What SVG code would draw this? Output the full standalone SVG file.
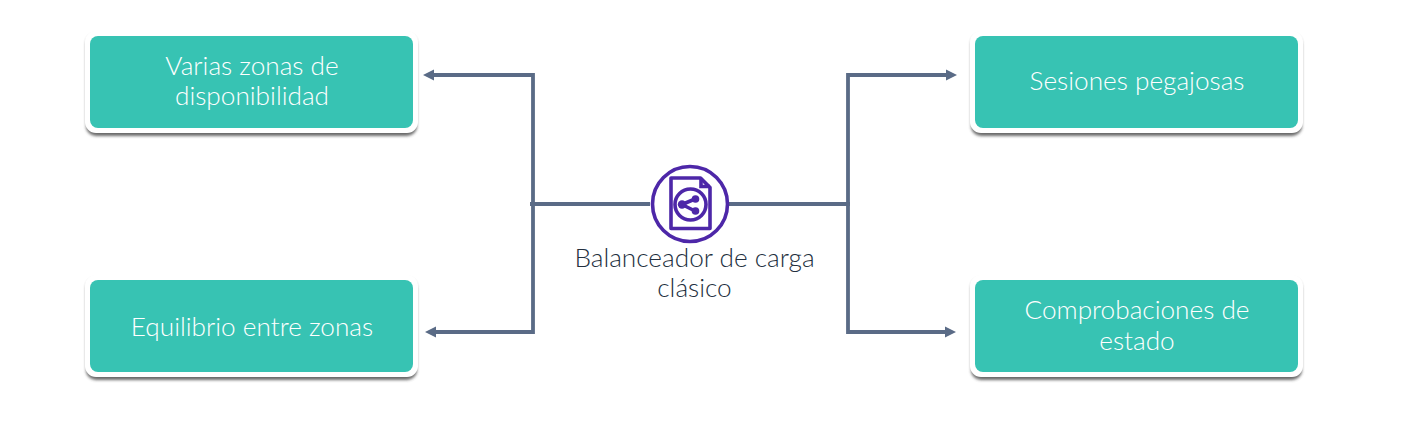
<svg xmlns="http://www.w3.org/2000/svg" width="1415" height="421" viewBox="0 0 1415 421">
<defs>
<filter id="sh" x="-5%" y="-15%" width="110%" height="130%"><feGaussianBlur stdDeviation="1.8"/></filter>
<marker id="ah" markerUnits="userSpaceOnUse" markerWidth="12" markerHeight="12" refX="2" refY="6" orient="auto"><path d="M0 0.500L11 6L0 11.500Z" fill="#5a6b86"/></marker>
</defs>
<style>
.bg{fill:#fff}
.sd{fill:#444;opacity:.8;filter:url(#sh)}
.bx{fill:#37c3b3}
.t{font-family:"Lato","Open Sans",sans-serif;font-weight:300;font-size:26.200px;fill:#fff;text-anchor:middle}
.l{font-family:"Lato","Open Sans",sans-serif;font-weight:300;font-size:26.200px;fill:#232f3e;text-anchor:middle}
.c{fill:none;stroke:#5a6b86;stroke-width:3.800}
.i{fill:none;stroke:#4d27a8;stroke-width:3.600}
</style>
<rect class="bg" width="1415" height="421"/>
<g id="connectors">
<path class="c" marker-end="url(#ah)" d="M650 204H533V75H432"/>
<path class="c" marker-end="url(#ah)" d="M530 204H533V332H434"/>
<path class="c" marker-end="url(#ah)" d="M729 204H848V75H948"/>
<path class="c" marker-end="url(#ah)" d="M850 204H848V332H947"/>
</g>
<g id="n1">
<rect class="sd" x="86" y="34" width="331" height="102" rx="10"/><rect class="bg" x="85" y="31" width="333" height="102" rx="11"/><rect class="bx" x="90" y="36" width="323" height="92" rx="8"/>
<text class="t" x="252" y="75">Varias zonas de</text><text class="t" x="252" y="105">disponibilidad</text>
</g>
<g id="n2">
<rect class="sd" x="86" y="278" width="331" height="102" rx="10"/><rect class="bg" x="85" y="275" width="333" height="102" rx="11"/><rect class="bx" x="90" y="280" width="323" height="92" rx="8"/>
<text class="t" x="252" y="336">Equilibrio entre zonas</text>
</g>
<g id="n3">
<rect class="sd" x="971" y="34" width="331" height="102" rx="10"/><rect class="bg" x="970" y="31" width="333" height="102" rx="11"/><rect class="bx" x="975" y="36" width="323" height="92" rx="8"/>
<text class="t" x="1137" y="90">Sesiones pegajosas</text>
</g>
<g id="n4">
<rect class="sd" x="971" y="278" width="331" height="102" rx="10"/><rect class="bg" x="970" y="275" width="333" height="102" rx="11"/><rect class="bx" x="975" y="280" width="323" height="92" rx="8"/>
<text class="t" x="1137" y="319">Comprobaciones de</text><text class="t" x="1137" y="350">estado</text>
</g>
<g id="balancer">
<circle cx="690" cy="204" r="37.500" fill="#fff" class="i"/>
<path class="i" stroke-linejoin="round" d="M671 178H700.500L710 187.500V228.500H671Z"/>
<path class="i" stroke-width="2.500" d="M701 178V186.500H710"/>
<circle class="i" stroke-width="3.200" cx="690.500" cy="204.500" r="15.500"/>
<path class="i" d="M695 199L682 204.500L695 211"/>
<circle cx="695.500" cy="199" r="3.800" fill="#4d27a8"/><circle cx="695.500" cy="211" r="3.800" fill="#4d27a8"/><circle cx="682" cy="204.500" r="4.200" fill="#4d27a8"/>
<text class="l" x="694.500" y="267">Balanceador de carga</text><text class="l" x="694.500" y="297">clásico</text>
</g>
</svg>
